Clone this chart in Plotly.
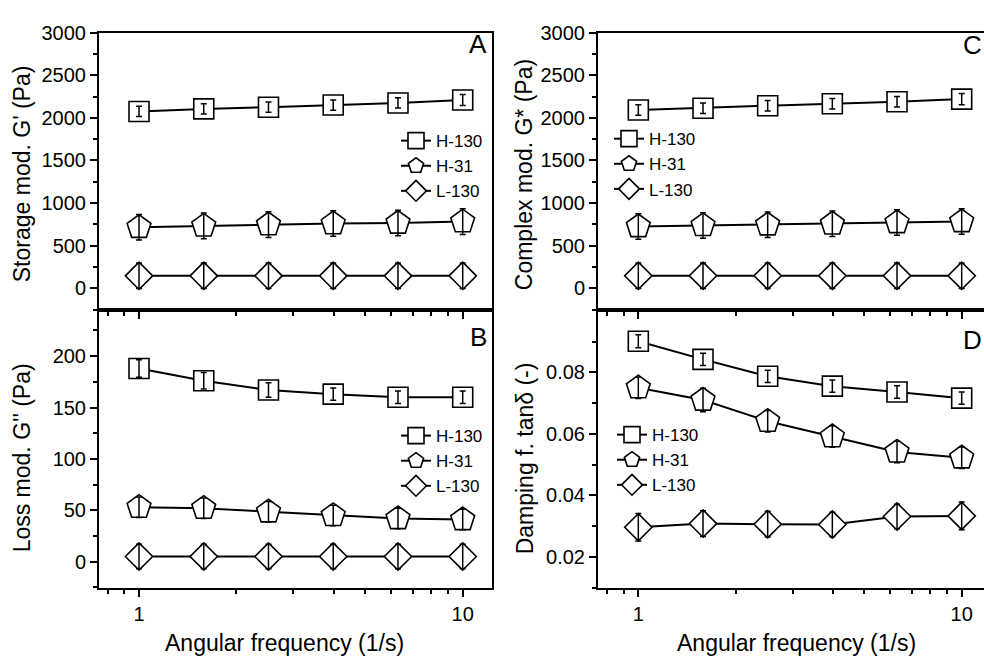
import plotly.graph_objects as go

# ---------------- data ----------------
freq = [1, 1.585, 2.512, 3.981, 6.310, 10]
names = ["H-130", "H-31", "L-130"]

storage_h130 = [2075, 2105, 2125, 2150, 2175, 2210]
storage_h31 = [716, 732, 747, 759, 766, 782]
storage_l130 = [146, 146, 146, 146, 146, 146]
storage_err_h130 = [60, 60, 60, 60, 60, 65]
storage_err_h31 = [150, 150, 150, 150, 150, 150]
storage_err_l130 = [150, 150, 150, 150, 150, 150]

loss_h130 = [188, 176, 167, 163, 160, 160]
loss_h31 = [53, 52, 48.5, 45, 42, 41]
loss_l130 = [5, 5, 5, 5, 5, 5]
loss_err_h130 = [8.5, 8, 7, 6, 6, 6]
loss_err_h31 = [10, 10, 10, 10, 10, 10]
loss_err_l130 = [12, 12, 12, 12, 12, 12]

complex_h130 = [2092, 2113, 2142, 2165, 2188, 2220]
complex_h31 = [725, 737, 745, 756, 771, 783]
complex_l130 = [147, 147, 147, 147, 147, 147]
complex_err_h130 = [62, 62, 62, 62, 62, 65]
complex_err_h31 = [150, 150, 150, 150, 150, 150]
complex_err_l130 = [150, 150, 150, 150, 150, 150]

damp_h130 = [0.0901, 0.0842, 0.0787, 0.0755, 0.0736, 0.0716]
damp_h31 = [0.0750, 0.0710, 0.0641, 0.0591, 0.0541, 0.0522]
damp_l130 = [0.0296, 0.0308, 0.0306, 0.0305, 0.0331, 0.0333]
damp_err_h130 = [0.0021, 0.002, 0.002, 0.002, 0.002, 0.002]
damp_err_h31 = [0.0035, 0.0038, 0.0035, 0.0035, 0.0035, 0.0035]
damp_err_l130 = [0.0045, 0.0042, 0.0042, 0.004, 0.004, 0.0045]

panel_letters = ["A", "B", "C", "D"]
y_titles = ["Storage mod. G' (Pa)", "Loss mod. G'' (Pa)",
            "Complex mod. G* (Pa)", "Damping f. tan\u03b4 (-)"]
x_title = "Angular frequency (1/s)"
x_ticks = [1, 10]
x_ticktext = ["1", "10"]
x_minor = [0.8, 0.9, 2, 3, 4, 5, 6, 7, 8, 9]

ticks_A = [0, 500, 1000, 1500, 2000, 2500, 3000]
minor_A = [-250, 250, 750, 1250, 1750, 2250, 2750]
ticks_B = [0, 50, 100, 150, 200]
minor_B = [-25, 25, 75, 125, 175, 225]
ticks_D = [0.02, 0.04, 0.06, 0.08]
minor_D = [0.01, 0.03, 0.05, 0.07, 0.09]

# ---------------- styling ----------------
FONT = "Liberation Sans, Arial, sans-serif"
W, H = 984, 656
symbols = {"H-130": ("square", 20), "H-31": ("pentagon", 25), "L-130": ("diamond", 21)}

panels = [
    dict(vals=[storage_h130, storage_h31, storage_l130],
         errs=[storage_err_h130, storage_err_h31, storage_err_l130], ax=""),
    dict(vals=[loss_h130, loss_h31, loss_l130],
         errs=[loss_err_h130, loss_err_h31, loss_err_l130], ax="2"),
    dict(vals=[complex_h130, complex_h31, complex_l130],
         errs=[complex_err_h130, complex_err_h31, complex_err_l130], ax="3"),
    dict(vals=[damp_h130, damp_h31, damp_l130],
         errs=[damp_err_h130, damp_err_h31, damp_err_l130], ax="4"),
]

fig = go.Figure()
for pi, p in enumerate(panels):
    ax = p["ax"]
    leg = "legend" + ax
    for name, v, e in zip(names, p["vals"], p["errs"]):
        sym, size = symbols[name]
        fig.add_trace(go.Scatter(
            x=freq, y=v, mode="lines+markers", name=name,
            xaxis="x" + ax, yaxis="y" + ax, legend=leg,
            line=dict(color="black", width=2),
            marker=dict(symbol=sym, size=size, color="white",
                        line=dict(color="black", width=1.6)),
            hoverinfo="skip"))
        fig.add_trace(go.Scatter(
            x=freq, y=v, mode="markers", showlegend=False,
            xaxis="x" + ax, yaxis="y" + ax,
            marker=dict(size=1, color="rgba(0,0,0,0)"),
            error_y=dict(type="data", array=e, color="black",
                         thickness=1.5, width=3),
            hoverinfo="skip"))

def px_x(px):
    return px / W

def px_y(py):
    return 1 - py / H

left_dom = [px_x(99), px_x(492)]
right_dom = [px_x(598), 1.0]
top_dom = [px_y(304), px_y(22)]
bot_dom = [px_y(587), px_y(304)]

axis_common = dict(showline=True, linecolor="black", linewidth=2,
                   ticks="outside", ticklen=7, tickwidth=1.5, tickcolor="black",
                   showgrid=False, zeroline=False,
                   tickfont=dict(family=FONT, size=20, color="black"))

def xaxis(dom, rng, anchor, labels):
    return dict(axis_common, domain=dom, type="log", range=rng, anchor=anchor,
                mirror=True, tickmode="array", tickvals=x_ticks,
                ticktext=x_ticktext, showticklabels=labels,
                minor=dict(tickmode="array", tickvals=x_minor, ticks="outside",
                           ticklen=4, tickwidth=1.5, tickcolor="black"))

def yaxis(dom, rng, anchor, tv, mv, mirror, fmt=None):
    d = dict(axis_common, domain=dom, range=rng, anchor=anchor, mirror=mirror,
             tickmode="array", tickvals=tv,
             minor=dict(tickmode="array", tickvals=mv, ticks="outside",
                        ticklen=4, tickwidth=1.5, tickcolor="black"))
    if fmt:
        d["tickformat"] = fmt
    return d

lx = [-0.1236, 1.0905]
rx = [-0.1247, 1.069]

fig.update_layout(
    width=W, height=H,
    margin=dict(l=0, r=0, t=0, b=0),
    paper_bgcolor="white", plot_bgcolor="white",
    font=dict(family=FONT, color="black"),
    xaxis=xaxis(left_dom, lx, "y", False),
    xaxis2=xaxis(left_dom, lx, "y2", True),
    xaxis3=xaxis(right_dom, rx, "y3", False),
    xaxis4=xaxis(right_dom, rx, "y4", True),
    yaxis=yaxis(top_dom, [-254, 3000], "x", ticks_A, minor_A, True),
    yaxis2=yaxis(bot_dom, [-25.8, 245], "x2", ticks_B, minor_B, True),
    yaxis3=yaxis(top_dom, [-254, 3000], "x3", ticks_A, minor_A, False),
    yaxis4=yaxis(bot_dom, [0.0098, 0.1003], "x4", ticks_D, minor_D, False, ".2f"),
)

def legend_at(xpx, ypx):
    return dict(x=px_x(xpx), y=px_y(ypx), xanchor="left", yanchor="top",
                bgcolor="rgba(0,0,0,0)", borderwidth=0, itemwidth=30,
                tracegroupgap=0, traceorder="normal",
                font=dict(family=FONT, size=17, color="black"))

fig.update_layout(
    legend=legend_at(396, 114),
    legend2=legend_at(396, 414),
    legend3=legend_at(609, 112),
    legend4=legend_at(612, 413),
)

annotations = []
# panel letters
letter_pos = [(489, 34, "right"), (489, 332, "right"), (984, 35, "right"), (984, 335, "right")]
for letter, (xp, yp, anc) in zip(panel_letters, letter_pos):
    annotations.append(dict(text=letter, x=px_x(xp), y=px_y(yp), xref="paper", yref="paper",
                            xanchor=anc, yanchor="middle",
                            showarrow=False, font=dict(family=FONT, size=26, color="black")))
# y titles
for t, (xp, yp) in zip(y_titles, [(22, 166), (22, 455), (524, 167), (525, 455)]):
    annotations.append(dict(text=t, x=px_x(xp), y=px_y(yp), xref="paper", yref="paper",
                            xanchor="center", yanchor="middle", textangle=-90,
                            showarrow=False, font=dict(family=FONT, size=23, color="black")))
# x titles
for xp in [284, 796]:
    annotations.append(dict(text=x_title, x=px_x(xp), y=px_y(643), xref="paper", yref="paper",
                            xanchor="center", yanchor="middle",
                            showarrow=False, font=dict(family=FONT, size=23, color="black")))
fig.update_layout(annotations=annotations)

fig.write_html("out.html")
